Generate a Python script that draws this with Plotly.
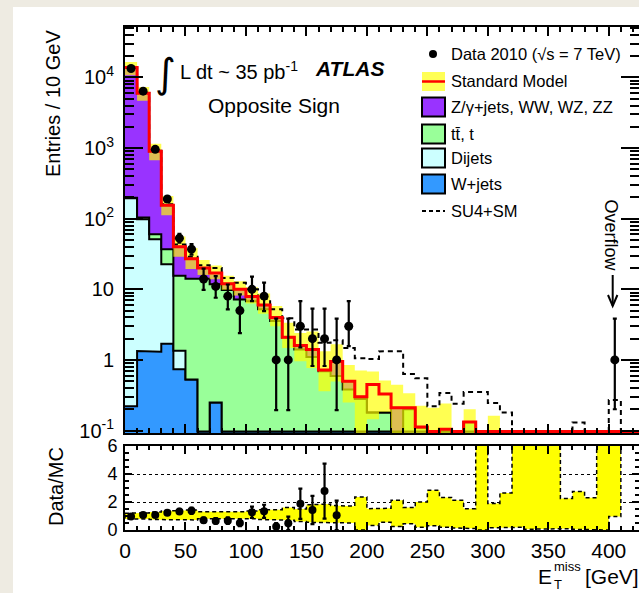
import numpy as np
import plotly.graph_objects as go

# ---------------- values ----------------
bin_edges = list(range(0, 440, 10))          # 10 GeV bins, 0..430 GeV (43 bins)

w_jets = [0.22, 1.34, 1.31, 1.7, 0.74, 0.53, 0, 0.25] + [0] * 35
dijets = [194.8, 96.7, 49.7, 20.9, 0.61] + [0] * 38
ttbar = [3, 6, 9, 14.3, 14.25, 13.57, 14.1, 11.55, 9.8, 7.2,
         6.8, 5.2, 3.56, 2.07, 1.41, 1.1, 0.69, 0.59, 0.38, 0.28,
         0.18, 0.18, 0, 0.2, 0.11, 0.05, 0.104, 0.03, 0.132, 0,
         0.08] + [0] * 12
z_jets = [13600, 5900, 840, 118, 24.4, 12.9, 5.9, 5.2, 2.2, 2.8,
          1.1, 0.8, 0.44, 0.03, 0.19, 0.3, 0.03, 0.36, 0.12, 0.02,
          0, 0, 0.21, 0.01] + [0] * 19
sm_total = [13800, 6000, 900, 155, 40, 27, 20, 17, 12, 10,
            7.9, 6.0, 4.0, 2.1, 1.6, 1.4, 0.72, 0.95, 0.5, 0.30,
            0.45, 0.33, 0.21, 0.21, 0.112, 0.074, 0.104, 0.045, 0.132, 0.006,
            0.085, 0.035, 0.004, 0.004, 0.004, 0.004, 0.02, 0.02, 0.02, 0.004,
            0.004, 0, 0]
su4_sm = [13850, 6030, 915, 160, 43, 29, 22, 20, 14.5, 12.4,
          10, 7.3, 5.2, 3.9, 2.7, 2.7, 1.75, 1.9, 1.47, 1.06,
          1.03, 1.32, 1.33, 0.63, 0.55, 0.22, 0.34, 0.24, 0.35, 0.35,
          0.245, 0.18, 0.02, 0.02, 0.02, 0.02, 0.02, 0.13, 0.02, 0.02,
          0.27, 0, 0]
# relative MC uncertainty (upper / lower edge of the band in the ratio panel)
mc_rel_hi = [1.2, 1.22, 1.28, 1.35, 1.4, 1.42, 1.3, 1.28, 1.3, 1.3,
             1.35, 1.45, 1.45, 1.6, 1.5, 1.8, 1.85, 1.75, 1.7, 2.36,
             1.52, 1.55, 2.12, 1.6, 2.0, 2.84, 2.32, 2.12, 1.52, 12,
             1.9, 2.65, 12, 12, 12, 12, 2.25, 2.75, 2.3, 12,
             12, None, None]
mc_rel_lo = [0.78, 0.78, 0.75, 0.72, 0.72, 0.72, 0.8, 0.82, 0.82, 0.82,
             0.8, 0.75, 0.75, 0.7, 0.6, 0.55, 0.5, 0.52, 0.5, 0.0,
             0.32, 0.56, 0.25, 0.44, 0.2, 0.3, 0.2, 0.15, 0.1, 0.0,
             0.15, 0.2, 0.2, 0.05, 0.05, 0.1, 0.1, 0.05, 0.05, 0.0,
             0.97, None, None]
data = [13400, 6400, 960, 190, 53, 37, 14, 11, 8, 5,
        10, 8, 1, 1, 3, 2, 2, 1, 3] + [None] * 21 + [1, None, None]
data_hi = [13516, 6480, 991, 204, 60.8, 43.6, 19.6, 15.4, 11.7, 8.5,
           15.1, 12.4, 3.84, 3.84, 6.8, 5.33, 5.33, 3.84, 6.8] + [None] * 21 + [3.84, None, None]
data_lo = [13284, 6320, 929, 176, 45.8, 31, 9.8, 7.6, 5.2, 2.4,
           6.8, 4.9, 0.195, 0.195, 1.5, 0.82, 0.82, 0.195, 1.57] + [None] * 21 + [0.2, None, None]

y_tick_vals = [0.1, 1, 10, 100, 1000, 10000]
y_tick_text = ["10<sup>-1</sup>", "1", "10", "10<sup>2</sup>", "10<sup>3</sup>", "10<sup>4</sup>"]

# ---------------- geometry / style ----------------
FIG_W, FIG_H = 639, 593
ML = 125
PW = FIG_W - ML
X_RANGE = [0, 425]
Y_LOG_RANGE = [-1.035, 4.715]
FLOOR = 10 ** -1.015      # zero / tiny bins are drawn on the bottom of the frame
BELOW = 10 ** -1.4
FONT = "Liberation Sans, Arial, sans-serif"

C_W = "#3399ff"
C_DJ = "#ccffff"
C_TT = "#99ff99"
C_Z = "#9933ff"
C_BAND = "rgba(255,255,0,0.68)"


def px_x(px):
    return (px - ML) / PW


def px_y(py):
    return (FIG_H - py) / FIG_H


edges = np.asarray(bin_edges, float)
centers = 0.5 * (edges[:-1] + edges[1:])


def num(a):
    return np.array([np.nan if v is None else v for v in a], float)


def step_xy(vals):
    v = np.asarray(vals, float)
    return np.repeat(edges, 2)[1:-1], np.repeat(v, 2)


def band_polygon(hi, lo):
    xs, ys = [], []
    n = len(hi)
    i = 0
    while i < n:
        if np.isnan(hi[i]):
            i += 1
            continue
        j = i
        while j < n and not np.isnan(hi[j]):
            j += 1
        ux, uy, lx, ly = [], [], [], []
        for k in range(i, j):
            ux += [edges[k], edges[k + 1]]
            uy += [hi[k], hi[k]]
            lx += [edges[k], edges[k + 1]]
            ly += [lo[k], lo[k]]
        xs += ux + lx[::-1] + [ux[0], None]
        ys += uy + ly[::-1] + [uy[0], None]
        i = j
    return xs, ys


w = num(w_jets)
dj = num(dijets)
tt = num(ttbar)
zz = num(z_jets)
sm = num(sm_total)
su4 = num(su4_sm)
rhi = num(mc_rel_hi)
rlo = num(mc_rel_lo)
d = num(data)
dhi = num(data_hi)
dlo = num(data_lo)

cum = [w, w + dj, w + dj + tt, w + dj + tt + zz]
colors = [C_W, C_DJ, C_TT, C_Z]

fig = go.Figure()

# baseline for the stack fill
bx, by = step_xy(np.full(len(w), BELOW))
fig.add_trace(go.Scatter(x=bx, y=by, mode="lines", line=dict(width=0, color="black"),
                         xaxis="x", yaxis="y", hoverinfo="skip", showlegend=False))
for c, col in zip(cum, colors):
    sx, sy = step_xy(np.maximum(c, FLOOR))
    fig.add_trace(go.Scatter(x=sx, y=sy, mode="lines", fill="tonexty", fillcolor=col,
                             line=dict(color="black", width=2), xaxis="x", yaxis="y",
                             hoverinfo="skip", showlegend=False))

# MC uncertainty band in the main panel
ylo_lim = 10 ** Y_LOG_RANGE[0]
mhi = sm * rhi
mlo = sm * rlo
mhi = np.where(mhi < ylo_lim, BELOW, mhi)
mlo = np.where(np.isnan(mlo), np.nan, np.maximum(mlo, BELOW))
bpx, bpy = band_polygon(mhi, mlo)
fig.add_trace(go.Scatter(x=bpx, y=bpy, mode="lines", fill="toself", fillcolor=C_BAND,
                         line=dict(width=0), xaxis="x", yaxis="y", hoverinfo="skip",
                         showlegend=False))

# SU4 + SM (drawn below the SM line, which hides it where they coincide)
sx, sy = step_xy(np.maximum(su4, FLOOR))
fig.add_trace(go.Scatter(x=sx, y=sy, mode="lines",
                         line=dict(color="black", width=2, dash="5px,4px"),
                         xaxis="x", yaxis="y", hoverinfo="skip", showlegend=False))
# Standard Model total
sx, sy = step_xy(np.maximum(sm, FLOOR))
fig.add_trace(go.Scatter(x=sx, y=sy, mode="lines", line=dict(color="#ff0000", width=3),
                         xaxis="x", yaxis="y", hoverinfo="skip", showlegend=False))
# data
fig.add_trace(go.Scatter(x=centers, y=d, mode="markers",
                         marker=dict(color="black", size=9),
                         error_y=dict(type="data", symmetric=False, array=dhi - d,
                                      arrayminus=d - dlo, color="black", thickness=2.2, width=2),
                         xaxis="x", yaxis="y", hoverinfo="skip", showlegend=False))

# ---------------- ratio panel ----------------
r_hi_plot = np.where(np.isnan(rhi), np.nan, np.minimum(rhi, 7.0))
r_lo_plot = np.where(np.isnan(rlo), np.nan, np.maximum(rlo, 0.0))
rpx, rpy = band_polygon(r_hi_plot, r_lo_plot)
fig.add_trace(go.Scatter(x=rpx, y=rpy, mode="lines", fill="toself", fillcolor="#ffff00",
                         line=dict(color="black", width=1.5, dash="4px,3px"),
                         xaxis="x2", yaxis="y2", hoverinfo="skip", showlegend=False))

ratio = d / sm
ratio_err = np.sqrt(d) / sm
show = (~np.isnan(ratio)) & (ratio < 5.8)
fig.add_trace(go.Scatter(x=centers[show], y=ratio[show], mode="markers",
                         marker=dict(color="black", size=8),
                         error_y=dict(type="data", array=ratio_err[show], color="black",
                                      thickness=2.2, width=2),
                         xaxis="x2", yaxis="y2", hoverinfo="skip", showlegend=False))

# ---------------- decorations ----------------
shapes = [
    dict(type="rect", xref="paper", yref="paper", x0=px_x(13), x1=px_x(660),
         y0=px_y(610), y1=px_y(7), fillcolor="white", line=dict(width=0), layer="below"),
]
ann = []


def text(px, py, s, size, xanchor="left", angle=0, family=FONT, yanchor="middle"):
    ann.append(dict(x=px_x(px), y=px_y(py), xref="paper", yref="paper", text=s,
                    showarrow=False, xanchor=xanchor, yanchor=yanchor, textangle=angle,
                    font=dict(family=family, size=size, color="black")))


# legend
legend_rows = [54, 81, 107, 134, 158, 184, 211]
legend_labels = ["Data 2010 (√s = 7 TeV)", "Standard Model", "Z/γ+jets, WW, WZ, ZZ",
                 "tt\u0304, t", "Dijets", "W+jets", "SU4+SM"]
for yy, lab in zip(legend_rows, legend_labels):
    text(449, yy, lab, 16.5)
shapes.append(dict(type="circle", xref="paper", yref="paper", x0=px_x(429), x1=px_x(437),
                   y0=px_y(58), y1=px_y(50), fillcolor="black", line=dict(width=0)))
shapes.append(dict(type="rect", xref="paper", yref="paper", x0=px_x(422), x1=px_x(445),
                   y0=px_y(91), y1=px_y(72), fillcolor="#ffff55", line=dict(width=0)))
shapes.append(dict(type="line", xref="paper", yref="paper", x0=px_x(422), x1=px_x(445),
                   y0=px_y(81.5), y1=px_y(81.5), line=dict(color="#ff0000", width=2.5)))
for yy, col in zip(legend_rows[2:6], [C_Z, C_TT, C_DJ, C_W]):
    shapes.append(dict(type="rect", xref="paper", yref="paper", x0=px_x(422), x1=px_x(445),
                       y0=px_y(yy + 9.5), y1=px_y(yy - 9.5), fillcolor=col,
                       line=dict(color="black", width=2)))
shapes.append(dict(type="line", xref="paper", yref="paper", x0=px_x(422), x1=px_x(445),
                   y0=px_y(211), y1=px_y(211),
                   line=dict(color="black", width=2, dash="4px,3px")))

# labels in the plot
text(165.5, 73, "∫", 40, xanchor="center", family="DejaVu Sans")
text(178, 70, "L dt ~ 35 pb<sup>-1</sup>", 20)
text(313, 69, "<b><i>ATLAS</i></b>", 21)
text(274, 105.5, "Opposite Sign", 21, xanchor="center")
text(610.5, 235, "Overflow", 18, xanchor="center", angle=90)
shapes.append(dict(type="line", xref="paper", yref="paper", x0=px_x(612.7), x1=px_x(612.7),
                   y0=px_y(306), y1=px_y(275), line=dict(color="black", width=2)))
shapes.append(dict(type="path", xref="paper", yref="paper",
                   path="M {} {} L {} {} L {} {}".format(px_x(608), px_y(295), px_x(612.7),
                                                          px_y(306), px_x(617.4), px_y(295)),
                   line=dict(color="black", width=2)))

# axis titles
text(53, 104, "Entries / 10 GeV", 20, xanchor="center", angle=-90)
text(56, 487, "Data/MC", 20, xanchor="center", angle=-90)
text(536, 576, "E", 21)
text(552, 566, "miss", 13)
text(552, 584, "T", 13)
text(583, 576, "[GeV]", 21)

axis_common = dict(showline=True, linecolor="black", linewidth=2, mirror="ticks",
                   ticks="inside", tickcolor="black", showgrid=False, zeroline=False)

fig.update_layout(
    width=FIG_W, height=FIG_H,
    margin=dict(l=ML, r=0, t=0, b=0, autoexpand=False),
    paper_bgcolor="#eeebe2", plot_bgcolor="white",
    font=dict(family=FONT, color="black"),
    showlegend=False,
    shapes=shapes, annotations=ann,
    xaxis=dict(domain=[0, 1], anchor="y", range=X_RANGE, tick0=0, dtick=50,
               ticklen=9, tickwidth=2, showticklabels=False,
               minor=dict(ticks="inside", dtick=10, ticklen=5, tickwidth=1.5, tickcolor="black"),
               **axis_common),
    yaxis=dict(domain=[px_y(433), px_y(27)], anchor="x", type="log", range=Y_LOG_RANGE,
               tickmode="array", tickvals=y_tick_vals, ticktext=y_tick_text,
               ticklen=18, tickwidth=2, tickfont=dict(size=20), ticklabelstandoff=5,
               minor=dict(ticks="inside", dtick="D1", ticklen=9, tickwidth=1.5, tickcolor="black"),
               **axis_common),
    xaxis2=dict(domain=[0, 1], anchor="y2", matches="x", range=X_RANGE, tick0=0, dtick=50,
                ticklen=8, tickwidth=2, tickfont=dict(size=21), ticklabelstandoff=1,
                minor=dict(ticks="inside", dtick=10, ticklen=4, tickwidth=1.5, tickcolor="black"),
                **axis_common),
    yaxis2=dict(domain=[px_y(530), px_y(446)], anchor="x2", range=[0, 6], tick0=0, dtick=2,
                ticklen=7, tickwidth=2, tickfont=dict(size=18), ticklabelstandoff=2,
                minor=dict(ticks="inside", dtick=0.5, ticklen=4, tickwidth=1.5, tickcolor="black"),
                showline=True, linecolor="black", linewidth=2, mirror="ticks",
                ticks="inside", tickcolor="black", zeroline=False,
                showgrid=True, gridcolor="black", gridwidth=1, griddash="3px,3px"),
)

fig.write_html("out.html", config={"displayModeBar": False},
               post_script="document.body.style.margin='0px';"
                           "document.body.style.overflow='hidden';")
